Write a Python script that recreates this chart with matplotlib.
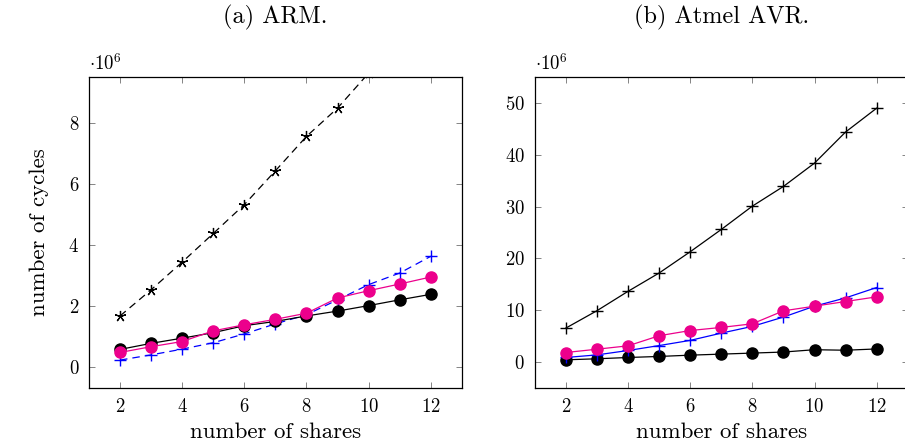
import matplotlib
matplotlib.use("Agg")
import matplotlib.pyplot as plt

plt.rcParams["font.family"] = "serif"
plt.rcParams["font.serif"] = ["cmr10", "DejaVu Serif"]
plt.rcParams["mathtext.fontset"] = "cm"
plt.rcParams["axes.unicode_minus"] = False
plt.rcParams["axes.formatter.use_mathtext"] = True

shares = [2, 3, 4, 5, 6, 7, 8, 9, 10, 11, 12]

# ARM, in millions of cycles
arm_star = [1.67, 2.53, 3.44, 4.38, 5.33, 6.44, 7.57, 8.5, 9.65, 10.9, 12.2]
arm_circ = [0.57, 0.77, 0.94, 1.12, 1.35, 1.49, 1.67, 1.83, 2.01, 2.2, 2.38]
arm_mag = [0.47, 0.66, 0.83, 1.18, 1.38, 1.56, 1.76, 2.26, 2.5, 2.72, 2.95]
arm_blue = [0.22, 0.39, 0.58, 0.79, 1.08, 1.41, 1.71, 2.2, 2.7, 3.08, 3.63]

# Atmel AVR, in millions of cycles
avr_plus = [6.58, 9.93, 13.67, 17.2, 21.3, 25.6, 30.1, 33.9, 38.4, 44.4, 49.0]
avr_circ = [0.45, 0.65, 0.9, 1.1, 1.35, 1.55, 1.75, 1.95, 2.4, 2.3, 2.55]
avr_mag = [1.86, 2.5, 3.15, 5.1, 6.1, 6.7, 7.4, 9.9, 10.8, 11.7, 12.6]
avr_blue = [0.9, 1.4, 2.25, 3.2, 4.2, 5.6, 6.9, 8.7, 10.8, 12.4, 14.4]

MAG = "#EC008C"
BLUE = "#0000FF"
fs = 13.5

fig = plt.figure(figsize=(9.05, 4.43), dpi=100)
ax1 = fig.add_axes([0.0983, 0.124, 0.412, 0.702])
ax2 = fig.add_axes([0.591, 0.124, 0.412, 0.702])

dash = (0, (6, 4))
ax1.plot(shares, arm_star, color="black", lw=0.9, ls=dash, marker=(5, 2, 0), ms=8, mew=0.9)
ax1.plot(shares, arm_blue, color=BLUE, lw=0.9, ls=dash, marker="+", ms=8, mew=1.0)
ax1.plot(shares, arm_circ, color="black", lw=0.9, marker="o", ms=8)
ax1.plot(shares, arm_mag, color=MAG, lw=0.9, marker="o", ms=8)
ax1.set_ylim(-0.7, 9.52)
ax1.set_yticks([0, 2, 4, 6, 8])

ax2.plot(shares, avr_plus, color="black", lw=0.9, marker="+", ms=8, mew=1.0)
ax2.plot(shares, avr_circ, color="black", lw=0.9, marker="o", ms=8)
ax2.plot(shares, avr_blue, color=BLUE, lw=0.9, marker="+", ms=8, mew=1.0)
ax2.plot(shares, avr_mag, color=MAG, lw=0.9, marker="o", ms=8)
ax2.set_ylim(-5.0, 55.0)
ax2.set_yticks([0, 10, 20, 30, 40, 50])

for ax, title in [(ax1, "(a) ARM."), (ax2, "(b) Atmel AVR.")]:
    ax.set_xlim(1, 13)
    ax.set_xticks([2, 4, 6, 8, 10, 12])
    ax.tick_params(direction="in", top=True, right=True, length=4,
                   width=0.6, color="#707070", labelsize=fs, pad=7)
    for s in ax.spines.values():
        s.set_linewidth(0.9)
    ax.set_xlabel("number of shares", fontsize=16.5, labelpad=5)
    ax.text(0.0, 1.01, r"$\cdot 10^6$", transform=ax.transAxes, fontsize=fs,
            ha="left", va="bottom")
    fig.text(ax.get_position().x0 + 0.206, 0.96, title, fontsize=17.5,
             ha="center", va="center")

ax1.set_ylabel("number of cycles", fontsize=16.5, labelpad=14)

fig.savefig("out.png", dpi=100)
